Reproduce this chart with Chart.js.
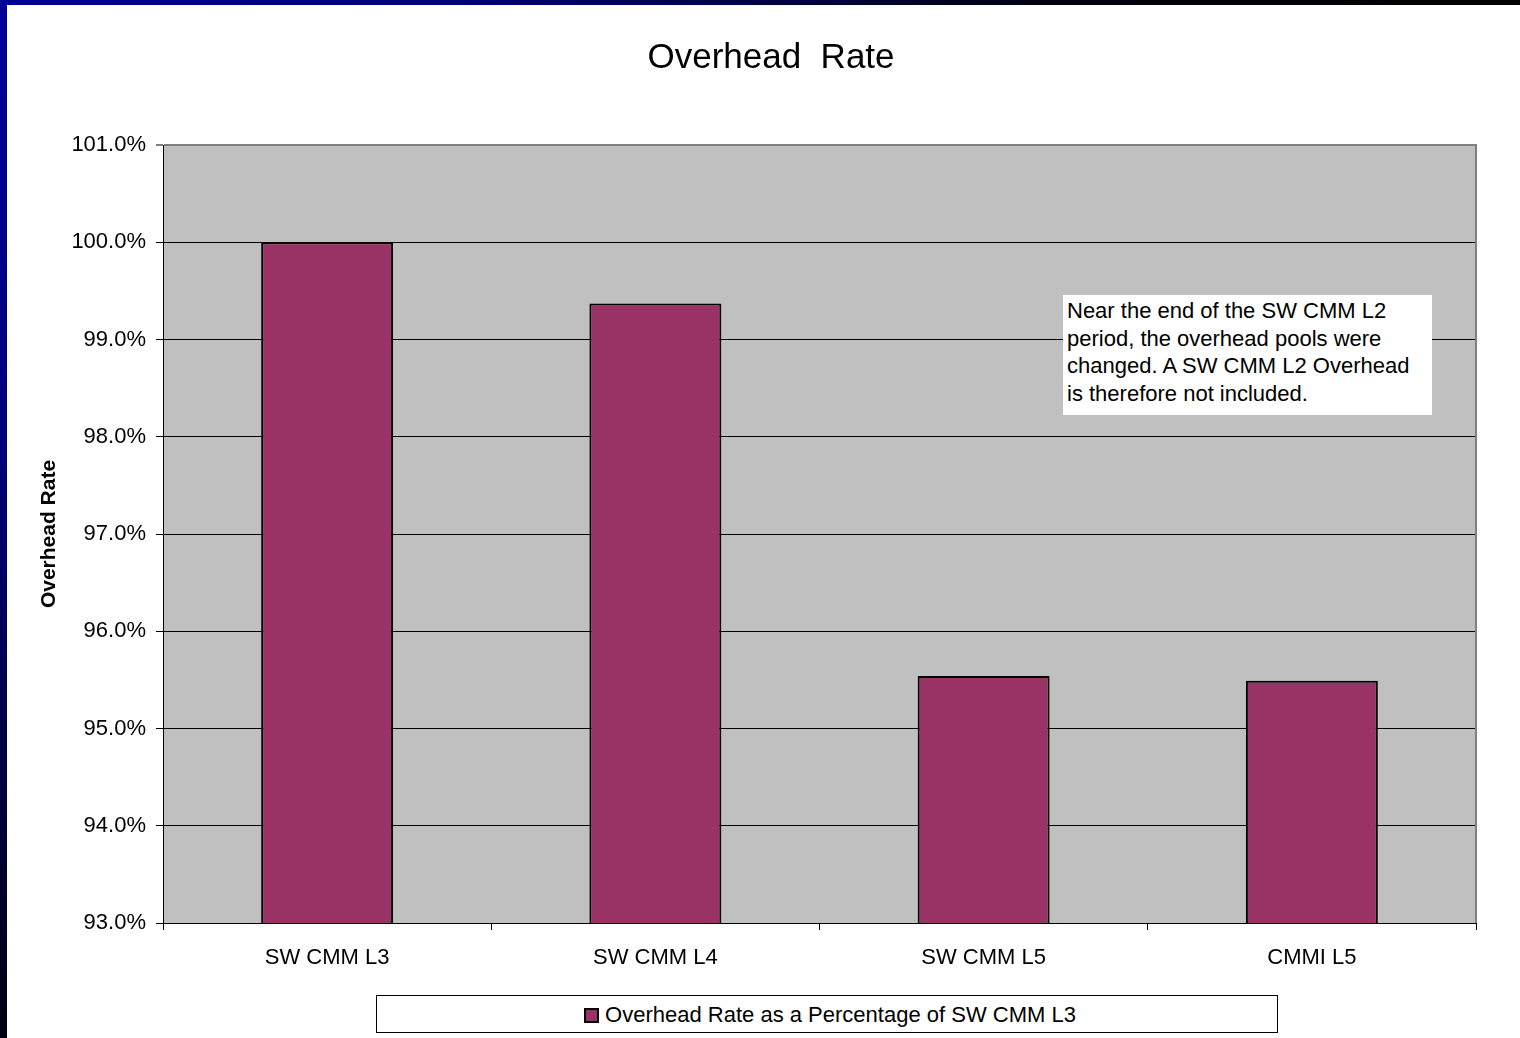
<!DOCTYPE html>
<html>
<head>
<meta charset="utf-8">
<title>Overhead Rate</title>
<script src="https://cdn.jsdelivr.net/npm/chart.js@4/dist/chart.umd.min.js"></script>
<style>
  body {
    margin: 0;
    width: 1520px;
    height: 1038px;
    position: relative;
    overflow: hidden;
    background: radial-gradient(circle at 0 0, #000099 0px, #00007a 450px, #000010 1050px, #000000 1500px);
    font-family: Arial, "Liberation Sans", sans-serif;
    color: #000;
  }
  #page {
    position: absolute;
    left: 7px;
    top: 5px;
    width: 1513px;
    height: 1033px;
    background: #fff;
  }
  #chart { position: absolute; left: 0; top: 0; }
  .title {
    position: absolute;
    left: 271px;
    top: 38px;
    width: 1000px;
    text-align: center;
    font-size: 35px;
    line-height: 35px;
    white-space: pre;
  }
  .note {
    position: absolute;
    left: 1063px;
    top: 295px;
    width: 369px;
    height: 120px;
    box-sizing: border-box;
    background: #fff;
    padding: 2px 0 0 4px;
    font-size: 22px;
    line-height: 27.5px;
    white-space: nowrap;
  }
  .legend {
    position: absolute;
    left: 376px;
    top: 995px;
    width: 902px;
    height: 38px;
    box-sizing: border-box;
    border: 1px solid #000;
    background: #fff;
    display: flex;
    align-items: center;
    justify-content: center;
    font-size: 22px;
    padding-top: 2px;
  }
  .legend .box {
    width: 15px;
    height: 15px;
    box-sizing: border-box;
    border: 2px solid #000;
    margin: 0 6px 0 6px;
  }
</style>
</head>
<body>
<div id="page">
  <canvas id="chart" width="1513" height="1033"></canvas>
</div>
<div class="title" id="chartTitle"></div>
<div class="note" id="note"></div>
<div class="legend" id="legend"></div>

<script>
const chartTitle = 'Overhead  Rate';
const categories = ['SW CMM L3', 'SW CMM L4', 'SW CMM L5', 'CMMI L5'];
const overheadRate = [100.0, 99.37, 95.54, 95.49];
const seriesLabel = 'Overhead Rate as a Percentage of SW CMM L3';
const yTickValues = [93, 94, 95, 96, 97, 98, 99, 100, 101];
const noteLines = [
    'Near the end of the SW CMM L2',
    'period, the overhead pools were',
    'changed. A SW CMM L2 Overhead',
    'is therefore not included.'
];

const barColor = '#993366';

document.getElementById('chartTitle').textContent = chartTitle;
document.getElementById('note').innerHTML = noteLines.join('<br>');
document.getElementById('legend').innerHTML =
    `<span class="box" style="background:${barColor}"></span><span>${seriesLabel}</span>`;

// grey plot area and the grey right edge, like the old spreadsheet chart
const plotArea = {
    id: 'plotArea',
    beforeDraw(chart) {
        const { ctx, chartArea: a } = chart;
        ctx.save();
        ctx.fillStyle = '#C0C0C0';
        ctx.fillRect(a.left, a.top, a.right - a.left, a.bottom - a.top);
        ctx.restore();
    },
    afterDraw(chart) {
        const { ctx, chartArea: a } = chart;
        ctx.save();
        ctx.strokeStyle = '#808080';
        ctx.lineWidth = 2;
        ctx.beginPath();
        ctx.moveTo(a.right, a.top - 1);
        ctx.lineTo(a.right, a.bottom);
        ctx.stroke();
        ctx.restore();
    }
};

const yMin = yTickValues[0];
const yMax = yTickValues[yTickValues.length - 1];

new Chart(document.getElementById('chart').getContext('2d'), {
    type: 'bar',
    data: {
        labels: categories,
        datasets: [{
            label: seriesLabel,
            data: overheadRate,
            backgroundColor: barColor,
            borderColor: '#000',
            borderWidth: 2,
            borderSkipped: false,
            barPercentage: 0.402,
            categoryPercentage: 1
        }]
    },
    options: {
        responsive: false,
        animation: false,
        layout: { padding: { top: 140, right: 44, left: 0, bottom: 55 } },
        plugins: {
            legend: { display: false },
            tooltip: { enabled: false }
        },
        scales: {
            x: {
                offset: true,
                grid: {
                    display: true,
                    drawOnChartArea: false,
                    drawTicks: true,
                    tickLength: 7,
                    tickColor: '#000',
                    offset: true
                },
                border: { color: '#000', width: 1 },
                ticks: {
                    color: '#000',
                    font: { family: 'Arial, "Liberation Sans", sans-serif', size: 22 },
                    padding: 15,
                    maxRotation: 0
                },
                afterFit: s => { s.height = 60; }
            },
            y: {
                min: yMin,
                max: yMax,
                afterBuildTicks: s => { s.ticks = yTickValues.map(v => ({ value: v })); },
                grid: {
                    color: c => c.tick && c.tick.value === yMax ? '#808080' : '#000',
                    lineWidth: c => c.tick && c.tick.value === yMax ? 2 : 1,
                    tickLength: 7,
                    tickColor: '#000',
                    tickWidth: 1
                },
                border: { color: '#000', width: 1 },
                ticks: {
                    color: '#000',
                    font: { family: 'Arial, "Liberation Sans", sans-serif', size: 22 },
                    padding: 10,
                    callback: v => v.toFixed(1) + '%'
                },
                title: {
                    display: true,
                    text: 'Overhead Rate',
                    color: '#000',
                    font: { family: 'Arial, "Liberation Sans", sans-serif', size: 21, weight: 'bold' },
                    padding: { top: 30, bottom: 0 }
                },
                afterFit: s => { s.width = 156; }
            }
        }
    },
    plugins: [plotArea]
});
</script>
</body>
</html>
